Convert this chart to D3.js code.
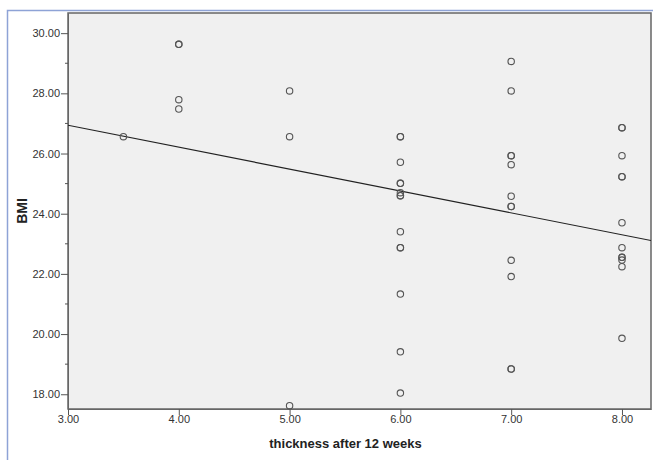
<!DOCTYPE html>
<html>
<head>
<meta charset="utf-8">
<script src="https://cdn.jsdelivr.net/npm/d3@7"></script>
<style>
  body { margin: 0; background: #fff; }
  svg { display: block; font-family: "Liberation Sans", Arial, sans-serif; }
  .tick text { fill: #333; font-size: 11px; }
  .domain { stroke: #666; }
</style>
</head>
<body>
<svg id="chart"></svg>
<script>
const WIDTH = 653, HEIGHT = 460;

// thickness after 12 weeks (x) and BMI (y), duplicates where SPSS draws overlapping points
const thickness = [3.5, 4, 4, 4, 4, 5, 5, 5,
    6, 6, 6, 6, 6, 6, 6, 6, 6, 6, 6, 6, 6, 6,
    7, 7, 7, 7, 7, 7, 7, 7, 7, 7, 7, 7,
    8, 8, 8, 8, 8, 8, 8, 8, 8, 8, 8, 8];
const bmi = [26.56, 29.63, 29.63, 27.79, 27.48, 28.08, 26.56, 17.62,
    26.56, 26.56, 25.71, 25.01, 25.01, 24.70, 24.60, 24.60, 23.40, 22.87, 22.87, 21.33, 19.41, 18.04,
    29.06, 28.08, 25.93, 25.93, 25.63, 24.58, 24.24, 24.24, 22.45, 21.91, 18.84, 18.84,
    26.86, 26.86, 25.93, 25.23, 25.23, 23.70, 22.87, 22.55, 22.55, 22.46, 22.24, 19.86];

const xTicks = [3, 4, 5, 6, 7, 8];
const yTicks = [18, 20, 22, 24, 26, 28, 30];
const yMinorTicks = [19, 21, 23, 25, 27, 29];
// fit line: BMI at thickness 3 and slope
const fitIntercept3 = 26.94, fitSlope = -0.728;

const plot = {left: 68, top: 13, right: 651, bottom: 409};

const x = d3.scaleLinear().domain([3, 8.262]).range([plot.left, plot.right]);
const y = d3.scaleLinear().domain([17.51, 30.67]).range([plot.bottom, plot.top]);

const svg = d3.select("#chart").attr("width", WIDTH).attr("height", HEIGHT);

// outer blue frame
svg.append("path")
    .attr("d", `M7.5,${HEIGHT}V10.5H${WIDTH}`)
    .attr("fill", "none")
    .attr("stroke", "#8ea3d6")
    .attr("stroke-width", 1.5);

svg.append("rect")
    .attr("x", plot.left).attr("y", plot.top)
    .attr("width", plot.right - plot.left).attr("height", plot.bottom - plot.top)
    .attr("fill", "#f0f0f0")
    .attr("stroke", "#666").attr("stroke-width", 1.5);

svg.append("clipPath").attr("id", "clip")
    .append("rect")
    .attr("x", plot.left).attr("y", plot.top)
    .attr("width", plot.right - plot.left).attr("height", plot.bottom - plot.top);

// axes
svg.append("g")
    .attr("transform", `translate(0,${plot.bottom})`)
    .call(d3.axisBottom(x).tickValues(xTicks).tickFormat(d3.format(".2f")).tickSize(6).tickSizeOuter(0))
    .call(g => g.selectAll(".tick line").attr("stroke", "#555"))
    .call(g => g.selectAll(".tick text").attr("y", 6).attr("dy", "0.71em"));

svg.append("g")
    .attr("transform", `translate(${plot.left},0)`)
    .call(d3.axisLeft(y).tickValues(yTicks).tickFormat(d3.format(".2f")).tickSize(7).tickSizeOuter(0))
    .call(g => g.selectAll(".tick line").attr("stroke", "#555"))
    .call(g => g.selectAll(".tick text").attr("x", -8));

svg.append("g")
    .selectAll("line")
    .data(yMinorTicks)
    .join("line")
    .attr("x1", plot.left - 3).attr("x2", plot.left)
    .attr("y1", d => y(d)).attr("y2", d => y(d))
    .attr("stroke", "#555");

// fit line
const xd = x.domain();
svg.append("line")
    .attr("clip-path", "url(#clip)")
    .attr("x1", x(xd[0])).attr("y1", y(fitIntercept3 + fitSlope * (xd[0] - 3)))
    .attr("x2", x(xd[1])).attr("y2", y(fitIntercept3 + fitSlope * (xd[1] - 3)))
    .attr("stroke", "#222").attr("stroke-width", 1.2);

// points
svg.append("g")
    .selectAll("circle")
    .data(d3.range(thickness.length))
    .join("circle")
    .attr("cx", i => x(thickness[i]))
    .attr("cy", i => y(bmi[i]))
    .attr("r", 3.2)
    .attr("fill", "none")
    .attr("stroke", "#555")
    .attr("stroke-width", 1.1);

// titles
svg.append("text")
    .attr("x", (plot.left + plot.right) / 2 - 14).attr("y", 448)
    .attr("text-anchor", "middle")
    .attr("font-size", 13).attr("font-weight", "bold").attr("fill", "#222")
    .text("thickness after 12 weeks");

svg.append("text")
    .attr("transform", "translate(27,211) rotate(-90)")
    .attr("text-anchor", "middle")
    .attr("font-size", 14).attr("font-weight", "bold").attr("fill", "#222")
    .text("BMI");
</script>
</body>
</html>
